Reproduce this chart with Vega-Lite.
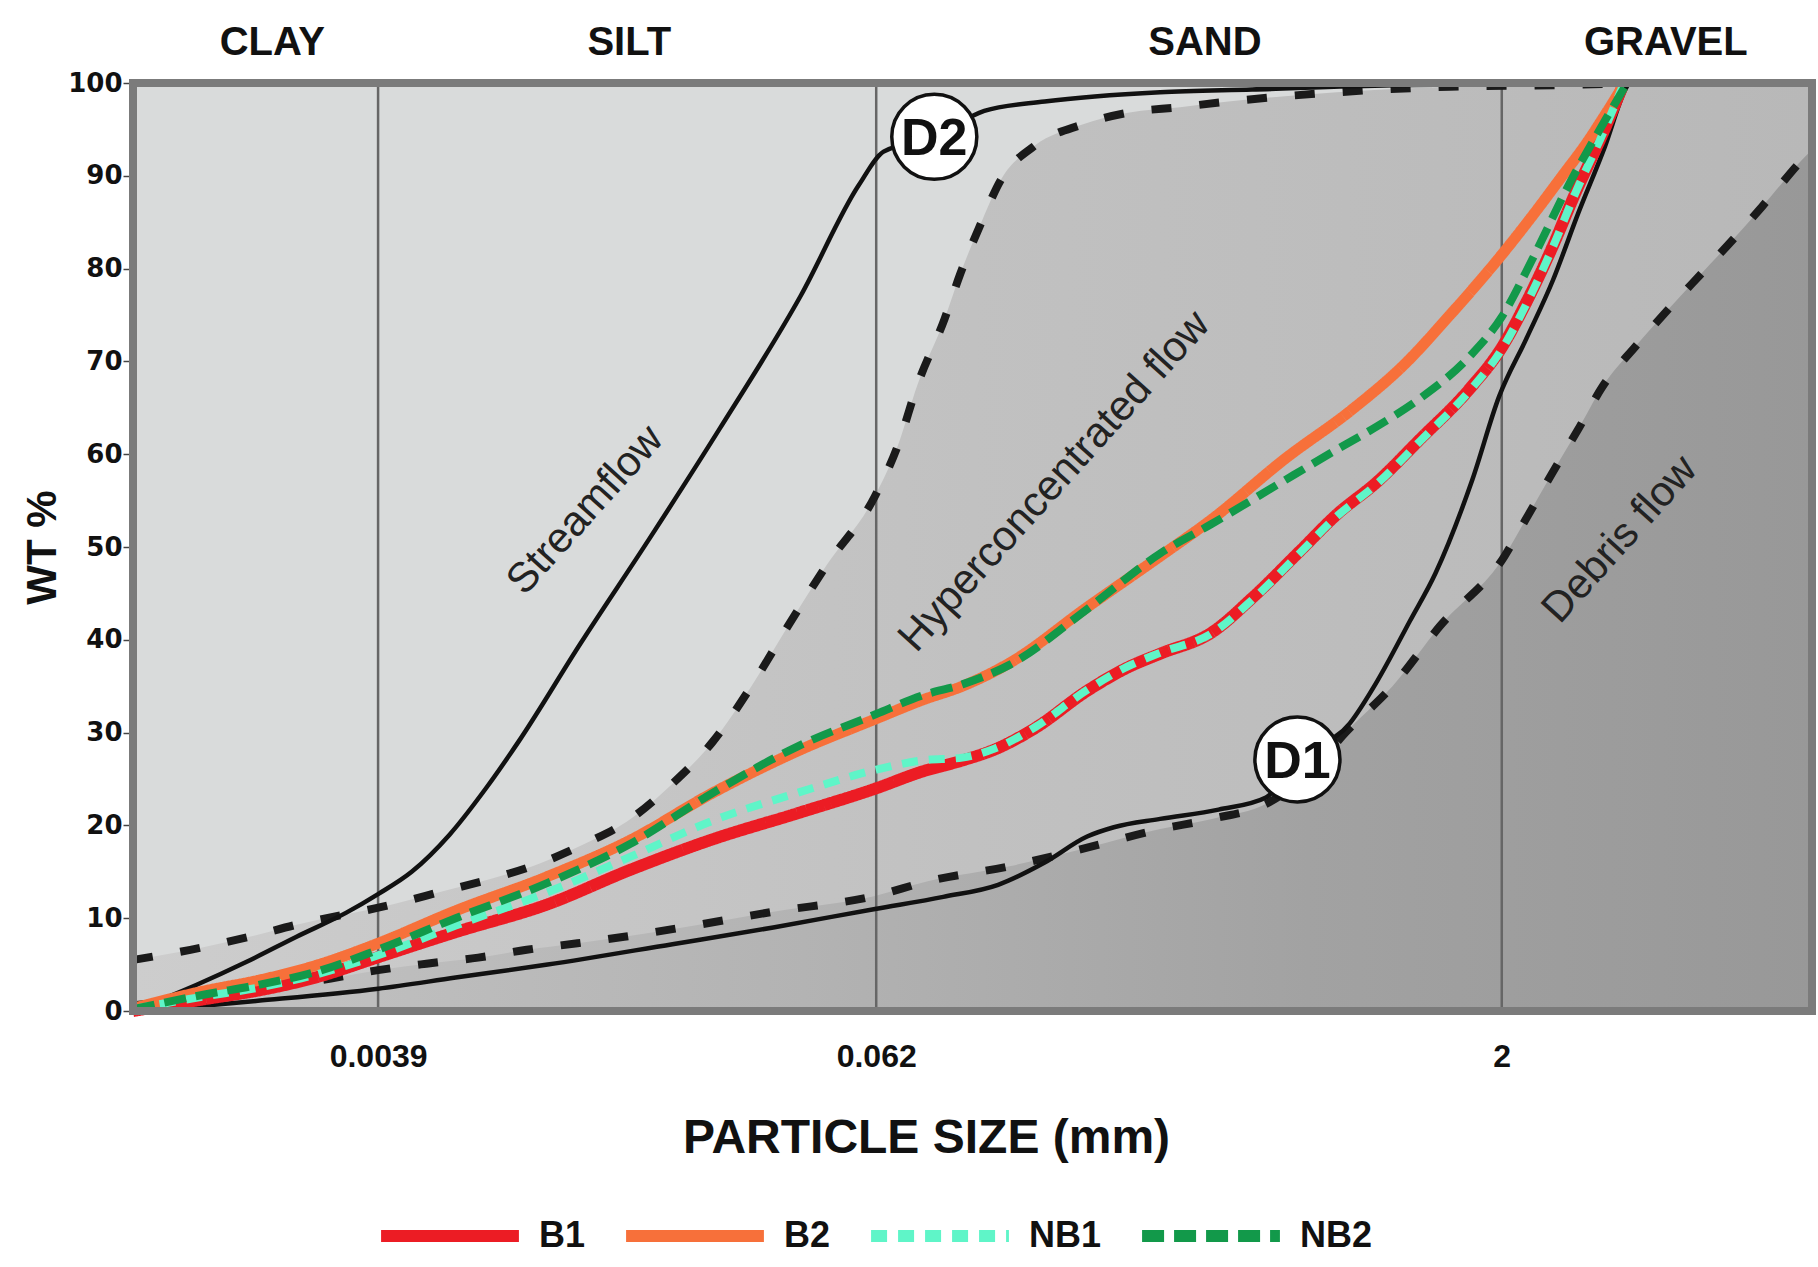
{
  "$schema": "https://vega.github.io/schema/vega-lite/v6.json",
  "width": 1679,
  "height": 928,
  "autosize": {"type": "none"},
  "padding": {"left": 133, "top": 83, "right": 6, "bottom": 256},
  "background": "#ffffff",
  "config": {
    "view": {"fill": "#d9dbdb", "stroke": null},
    "font": "Liberation Sans"
  },
  "datasets": {
    "curves": [
      {"c": "upper", "x": 0.001, "y": 5.5}, {"c": "upper", "x": 0.00145, "y": 6.8}, {"c": "upper", "x": 0.00191, "y": 8.0},
      {"c": "upper", "x": 0.00248, "y": 9.3}, {"c": "upper", "x": 0.00424, "y": 11.5}, {"c": "upper", "x": 0.00559, "y": 12.9},
      {"c": "upper", "x": 0.00738, "y": 14.3}, {"c": "upper", "x": 0.00957, "y": 15.9}, {"c": "upper", "x": 0.0124, "y": 18.1},
      {"c": "upper", "x": 0.0155, "y": 20.4}, {"c": "upper", "x": 0.02, "y": 24.5}, {"c": "upper", "x": 0.025, "y": 29.0},
      {"c": "upper", "x": 0.031, "y": 35.0}, {"c": "upper", "x": 0.038, "y": 41.5}, {"c": "upper", "x": 0.047, "y": 48.0},
      {"c": "upper", "x": 0.0616, "y": 55.5}, {"c": "upper", "x": 0.07, "y": 61.0}, {"c": "upper", "x": 0.078, "y": 67.5},
      {"c": "upper", "x": 0.0905, "y": 74.5}, {"c": "upper", "x": 0.099, "y": 79.5}, {"c": "upper", "x": 0.11, "y": 84.5},
      {"c": "upper", "x": 0.124, "y": 89.6}, {"c": "upper", "x": 0.149, "y": 93.2}, {"c": "upper", "x": 0.194, "y": 95.5},
      {"c": "upper", "x": 0.251, "y": 96.8}, {"c": "upper", "x": 0.335, "y": 97.4}, {"c": "upper", "x": 0.438, "y": 98.0},
      {"c": "upper", "x": 0.8, "y": 99.0}, {"c": "upper", "x": 1.5, "y": 99.6}, {"c": "upper", "x": 3.0, "y": 99.8},
      {"c": "upper", "x": 4.0, "y": 100}, {"c": "upper", "x": 11.2, "y": 100},

      {"c": "lower", "x": 0.001, "y": 0.6}, {"c": "lower", "x": 0.0015, "y": 1.5}, {"c": "lower", "x": 0.002, "y": 2.3},
      {"c": "lower", "x": 0.003, "y": 3.5}, {"c": "lower", "x": 0.0039, "y": 4.4}, {"c": "lower", "x": 0.0051, "y": 5.1},
      {"c": "lower", "x": 0.0068, "y": 5.75}, {"c": "lower", "x": 0.0089, "y": 6.6}, {"c": "lower", "x": 0.0118, "y": 7.3},
      {"c": "lower", "x": 0.0153, "y": 8.0}, {"c": "lower", "x": 0.0228, "y": 9.25}, {"c": "lower", "x": 0.035, "y": 10.7},
      {"c": "lower", "x": 0.0616, "y": 12.4}, {"c": "lower", "x": 0.083, "y": 14.0}, {"c": "lower", "x": 0.13, "y": 15.6},
      {"c": "lower", "x": 0.2, "y": 17.6}, {"c": "lower", "x": 0.3, "y": 19.6}, {"c": "lower", "x": 0.4, "y": 20.7},
      {"c": "lower", "x": 0.55, "y": 22.5}, {"c": "lower", "x": 0.7, "y": 26.0}, {"c": "lower", "x": 0.84, "y": 30.0},
      {"c": "lower", "x": 1.09, "y": 35.0}, {"c": "lower", "x": 1.42, "y": 41.5}, {"c": "lower", "x": 2.03, "y": 49.0},
      {"c": "lower", "x": 2.28, "y": 52.9}, {"c": "lower", "x": 2.65, "y": 58.0}, {"c": "lower", "x": 3.05, "y": 62.6},
      {"c": "lower", "x": 3.5, "y": 67.3}, {"c": "lower", "x": 4.2, "y": 71.6}, {"c": "lower", "x": 5.04, "y": 75.6},
      {"c": "lower", "x": 6.07, "y": 79.5}, {"c": "lower", "x": 7.35, "y": 83.5}, {"c": "lower", "x": 8.9, "y": 87.75},
      {"c": "lower", "x": 10.8, "y": 92.1}, {"c": "lower", "x": 11.2, "y": 92.8},

      {"c": "D1", "x": 0.001, "y": 0}, {"c": "D1", "x": 0.0015, "y": 0.6}, {"c": "D1", "x": 0.002, "y": 1.1},
      {"c": "D1", "x": 0.0039, "y": 2.4}, {"c": "D1", "x": 0.006, "y": 3.6}, {"c": "D1", "x": 0.01, "y": 5.0},
      {"c": "D1", "x": 0.02, "y": 7.2}, {"c": "D1", "x": 0.035, "y": 9.0}, {"c": "D1", "x": 0.0616, "y": 11.0},
      {"c": "D1", "x": 0.09, "y": 12.3}, {"c": "D1", "x": 0.122, "y": 13.6}, {"c": "D1", "x": 0.158, "y": 16.0},
      {"c": "D1", "x": 0.2, "y": 18.8}, {"c": "D1", "x": 0.232, "y": 19.8}, {"c": "D1", "x": 0.3, "y": 20.7},
      {"c": "D1", "x": 0.415, "y": 21.7}, {"c": "D1", "x": 0.54, "y": 23.0}, {"c": "D1", "x": 0.643, "y": 27.1},
      {"c": "D1", "x": 0.86, "y": 31.0}, {"c": "D1", "x": 1.0, "y": 35.5}, {"c": "D1", "x": 1.2, "y": 42.0},
      {"c": "D1", "x": 1.385, "y": 47.2}, {"c": "D1", "x": 1.7, "y": 57.3}, {"c": "D1", "x": 1.97, "y": 66.2},
      {"c": "D1", "x": 2.29, "y": 72.4}, {"c": "D1", "x": 2.66, "y": 78.8}, {"c": "D1", "x": 3.06, "y": 86.0},
      {"c": "D1", "x": 3.55, "y": 93.2}, {"c": "D1", "x": 3.97, "y": 99.3}, {"c": "D1", "x": 4.05, "y": 100},

      {"c": "D2", "x": 0.001, "y": 0}, {"c": "D2", "x": 0.00142, "y": 2.8}, {"c": "D2", "x": 0.00188, "y": 5.3},
      {"c": "D2", "x": 0.00248, "y": 8.0}, {"c": "D2", "x": 0.00327, "y": 10.6}, {"c": "D2", "x": 0.0039, "y": 12.6},
      {"c": "D2", "x": 0.0047, "y": 15.0}, {"c": "D2", "x": 0.0058, "y": 19.0}, {"c": "D2", "x": 0.0071, "y": 24.0},
      {"c": "D2", "x": 0.0085, "y": 29.0}, {"c": "D2", "x": 0.012, "y": 39.6}, {"c": "D2", "x": 0.0176, "y": 50.9},
      {"c": "D2", "x": 0.026, "y": 62.75}, {"c": "D2", "x": 0.0408, "y": 77.1}, {"c": "D2", "x": 0.0563, "y": 89.0},
      {"c": "D2", "x": 0.0646, "y": 92.6}, {"c": "D2", "x": 0.0856, "y": 94.2}, {"c": "D2", "x": 0.113, "y": 97.0},
      {"c": "D2", "x": 0.158, "y": 98.0}, {"c": "D2", "x": 0.3, "y": 99.0}, {"c": "D2", "x": 0.5, "y": 99.3},
      {"c": "D2", "x": 1.09, "y": 99.75}, {"c": "D2", "x": 2.1, "y": 99.9}, {"c": "D2", "x": 4.0, "y": 100}
    ],
    "samples": [
      {"s": "B1", "x": 0.001, "y": 0}, {"s": "B1", "x": 0.0015, "y": 1.3}, {"s": "B1", "x": 0.002, "y": 2.2},
      {"s": "B1", "x": 0.0028, "y": 3.7}, {"s": "B1", "x": 0.0039, "y": 5.8}, {"s": "B1", "x": 0.006, "y": 8.5},
      {"s": "B1", "x": 0.01, "y": 11.5}, {"s": "B1", "x": 0.0158, "y": 15.2}, {"s": "B1", "x": 0.025, "y": 18.5},
      {"s": "B1", "x": 0.04, "y": 21.3}, {"s": "B1", "x": 0.062, "y": 24.0}, {"s": "B1", "x": 0.08, "y": 25.8},
      {"s": "B1", "x": 0.1, "y": 27.0}, {"s": "B1", "x": 0.12, "y": 28.2}, {"s": "B1", "x": 0.15, "y": 30.5},
      {"s": "B1", "x": 0.2, "y": 34.5}, {"s": "B1", "x": 0.25, "y": 37.0}, {"s": "B1", "x": 0.3, "y": 38.5},
      {"s": "B1", "x": 0.4, "y": 40.8}, {"s": "B1", "x": 0.5, "y": 44.5}, {"s": "B1", "x": 0.65, "y": 49.5},
      {"s": "B1", "x": 0.8, "y": 53.5}, {"s": "B1", "x": 1.0, "y": 57.0}, {"s": "B1", "x": 1.27, "y": 61.6},
      {"s": "B1", "x": 1.67, "y": 67.0}, {"s": "B1", "x": 2.0, "y": 71.5}, {"s": "B1", "x": 2.3, "y": 76.5},
      {"s": "B1", "x": 2.66, "y": 82.5}, {"s": "B1", "x": 3.0, "y": 88.0}, {"s": "B1", "x": 3.5, "y": 94.5},
      {"s": "B1", "x": 3.9, "y": 99.5},

      {"s": "B2", "x": 0.001, "y": 0.3}, {"s": "B2", "x": 0.0015, "y": 2.2}, {"s": "B2", "x": 0.002, "y": 3.3},
      {"s": "B2", "x": 0.0028, "y": 5.0}, {"s": "B2", "x": 0.0039, "y": 7.3}, {"s": "B2", "x": 0.006, "y": 10.8},
      {"s": "B2", "x": 0.01, "y": 14.5}, {"s": "B2", "x": 0.0158, "y": 18.4}, {"s": "B2", "x": 0.025, "y": 23.5},
      {"s": "B2", "x": 0.04, "y": 28.0}, {"s": "B2", "x": 0.062, "y": 31.5}, {"s": "B2", "x": 0.08, "y": 33.5},
      {"s": "B2", "x": 0.1, "y": 35.0}, {"s": "B2", "x": 0.13, "y": 37.5}, {"s": "B2", "x": 0.2, "y": 43.5},
      {"s": "B2", "x": 0.3, "y": 49.0}, {"s": "B2", "x": 0.4, "y": 53.0}, {"s": "B2", "x": 0.6, "y": 59.5},
      {"s": "B2", "x": 0.87, "y": 64.8}, {"s": "B2", "x": 1.16, "y": 69.6}, {"s": "B2", "x": 1.5, "y": 75.0},
      {"s": "B2", "x": 2.0, "y": 81.5}, {"s": "B2", "x": 2.4, "y": 86.0}, {"s": "B2", "x": 2.8, "y": 90.0},
      {"s": "B2", "x": 3.2, "y": 93.5}, {"s": "B2", "x": 3.6, "y": 97.0}, {"s": "B2", "x": 3.9, "y": 99.5},

      {"s": "NB1", "x": 0.001, "y": 0.2}, {"s": "NB1", "x": 0.0015, "y": 1.6}, {"s": "NB1", "x": 0.002, "y": 2.5},
      {"s": "NB1", "x": 0.0028, "y": 4.0}, {"s": "NB1", "x": 0.0039, "y": 6.0}, {"s": "NB1", "x": 0.006, "y": 9.2},
      {"s": "NB1", "x": 0.01, "y": 12.8}, {"s": "NB1", "x": 0.0158, "y": 16.6}, {"s": "NB1", "x": 0.025, "y": 20.5},
      {"s": "NB1", "x": 0.04, "y": 23.5}, {"s": "NB1", "x": 0.062, "y": 26.0}, {"s": "NB1", "x": 0.08, "y": 27.0},
      {"s": "NB1", "x": 0.1, "y": 27.3}, {"s": "NB1", "x": 0.12, "y": 28.3}, {"s": "NB1", "x": 0.15, "y": 30.6},
      {"s": "NB1", "x": 0.2, "y": 34.6}, {"s": "NB1", "x": 0.25, "y": 37.1}, {"s": "NB1", "x": 0.3, "y": 38.6},
      {"s": "NB1", "x": 0.4, "y": 40.7}, {"s": "NB1", "x": 0.5, "y": 44.3}, {"s": "NB1", "x": 0.65, "y": 49.3},
      {"s": "NB1", "x": 0.8, "y": 53.3}, {"s": "NB1", "x": 1.0, "y": 56.8}, {"s": "NB1", "x": 1.27, "y": 61.4},
      {"s": "NB1", "x": 1.67, "y": 66.8}, {"s": "NB1", "x": 2.0, "y": 71.3}, {"s": "NB1", "x": 2.3, "y": 76.3},
      {"s": "NB1", "x": 2.66, "y": 82.4}, {"s": "NB1", "x": 3.0, "y": 88.0}, {"s": "NB1", "x": 3.5, "y": 94.5},
      {"s": "NB1", "x": 3.9, "y": 99.5},

      {"s": "NB2", "x": 0.001, "y": 0.2}, {"s": "NB2", "x": 0.0015, "y": 1.8}, {"s": "NB2", "x": 0.002, "y": 2.8},
      {"s": "NB2", "x": 0.0028, "y": 4.3}, {"s": "NB2", "x": 0.0039, "y": 6.6}, {"s": "NB2", "x": 0.006, "y": 10.0},
      {"s": "NB2", "x": 0.01, "y": 13.8}, {"s": "NB2", "x": 0.0158, "y": 18.0}, {"s": "NB2", "x": 0.025, "y": 23.5},
      {"s": "NB2", "x": 0.04, "y": 28.5}, {"s": "NB2", "x": 0.062, "y": 32.0}, {"s": "NB2", "x": 0.08, "y": 34.0},
      {"s": "NB2", "x": 0.1, "y": 35.2}, {"s": "NB2", "x": 0.13, "y": 37.3}, {"s": "NB2", "x": 0.2, "y": 43.3},
      {"s": "NB2", "x": 0.3, "y": 49.3}, {"s": "NB2", "x": 0.4, "y": 52.5}, {"s": "NB2", "x": 0.6, "y": 57.2},
      {"s": "NB2", "x": 0.8, "y": 60.5}, {"s": "NB2", "x": 1.0, "y": 63.0}, {"s": "NB2", "x": 1.27, "y": 66.0},
      {"s": "NB2", "x": 1.67, "y": 70.5}, {"s": "NB2", "x": 2.0, "y": 74.8}, {"s": "NB2", "x": 2.37, "y": 81.0},
      {"s": "NB2", "x": 2.9, "y": 89.0}, {"s": "NB2", "x": 3.5, "y": 95.5}, {"s": "NB2", "x": 3.95, "y": 99.5}
    ]
  },
  "encoding": {
    "x": {
      "field": "x", "type": "quantitative",
      "scale": {"type": "log", "domain": [0.001, 11.2], "nice": false},
      "axis": {
        "values": [0.0039, 0.062, 2], "format": "~g", "title": "PARTICLE SIZE (mm)",
        "ticks": false, "domain": false, "grid": false, "labelOverlap": false,
        "labelFont": "Liberation Sans", "labelFontWeight": "bold", "labelFontSize": 32, "labelColor": "#111111",
        "labelPadding": 30,
        "titleFont": "Liberation Sans", "titleFontWeight": "bold", "titleFontSize": 48, "titleColor": "#111111",
        "titlePadding": 42, "titleX": 793
      }
    },
    "y": {
      "field": "y", "type": "quantitative",
      "scale": {"domain": [0, 100], "nice": false},
      "axis": {
        "values": [0, 10, 20, 30, 40, 50, 60, 70, 80, 90, 100], "title": "WT %",
        "domain": false, "grid": false, "tickSize": 10, "tickColor": "#444444", "tickWidth": 1.5,
        "labelFont": "DejaVu Sans", "labelFontWeight": "bold", "labelFontSize": 26, "labelColor": "#111111",
        "labelPadding": 1,
        "titleFont": "Liberation Sans", "titleFontWeight": "bold", "titleFontSize": 42, "titleColor": "#111111",
        "titlePadding": 3
      }
    }
  },
  "layer": [
    {
      "data": {"name": "curves"},
      "transform": [{"filter": "datum.c == 'upper'"}],
      "mark": {
        "type": "area", "interpolate": "monotone",
        "color": {"gradient": "linear", "x1": 0, "y1": 0, "x2": 1, "y2": 0,
          "stops": [{"offset": 0, "color": "#cdcdcd"}, {"offset": 0.5, "color": "#c1c1c1"}, {"offset": 1, "color": "#b8b8b8"}]}
      }
    },
    {
      "data": {"name": "curves"},
      "transform": [{"filter": "datum.c == 'lower'"}],
      "mark": {
        "type": "area", "interpolate": "monotone",
        "color": {"gradient": "linear", "x1": 0, "y1": 0, "x2": 1, "y2": 0,
          "stops": [{"offset": 0, "color": "#c4c4c4"}, {"offset": 0.4, "color": "#b3b3b3"}, {"offset": 0.7, "color": "#a2a2a2"}, {"offset": 1, "color": "#989898"}]}
      }
    },
    {
      "data": {"values": [{"x": 0.0039, "y": 0, "y2": 100}, {"x": 0.062, "y": 0, "y2": 100}, {"x": 2, "y": 0, "y2": 100}]},
      "mark": {"type": "rule", "color": "#666666", "strokeWidth": 2.5},
      "encoding": {"y2": {"field": "y2"}}
    },
    {
      "data": {"name": "curves"},
      "transform": [{"filter": "(datum.c == 'upper' && datum.x <= 4.5) || datum.c == 'lower'"}],
      "mark": {"type": "line", "interpolate": "monotone", "color": "#1a1a1a", "strokeWidth": 8, "strokeDash": [20, 28], "strokeCap": "butt"},
      "encoding": {"detail": {"field": "c"}}
    },
    {
      "data": {"name": "curves"},
      "transform": [{"filter": "datum.c == 'D1' || datum.c == 'D2'"}],
      "mark": {"type": "line", "interpolate": "monotone", "color": "#111111", "strokeWidth": 4.5},
      "encoding": {"detail": {"field": "c"}}
    },
    {
      "data": {"name": "samples"},
      "encoding": {
        "color": {
          "field": "s", "type": "nominal",
          "scale": {"domain": ["B1", "B2", "NB1", "NB2"], "range": ["#ec1c24", "#f7703a", "#5ff5c8", "#12994a"]},
          "legend": {
            "orient": "none", "legendX": 242, "legendY": 1078, "direction": "horizontal", "title": null,
            "symbolType": "stroke", "symbolSize": 19000, "symbolStrokeWidth": 12,
            "labelFont": "Liberation Sans", "labelFontWeight": "bold", "labelFontSize": 36, "labelColor": "#111111",
            "labelOffset": 14, "columnPadding": 16, "padding": 0
          }
        },
        "strokeDash": {
          "field": "s", "type": "nominal",
          "scale": {"domain": ["B1", "B2", "NB1", "NB2"], "range": [[1, 0], [1, 0], [16, 11], [22, 10]]},
          "legend": {
            "orient": "none", "legendX": 242, "legendY": 1078, "direction": "horizontal", "title": null,
            "symbolType": "stroke", "symbolSize": 19000, "symbolStrokeWidth": 12,
            "labelFont": "Liberation Sans", "labelFontWeight": "bold", "labelFontSize": 36, "labelColor": "#111111",
            "labelOffset": 14, "columnPadding": 16, "padding": 0
          }
        }
      },
      "layer": [
        {"transform": [{"filter": "datum.s == 'B1'"}], "mark": {"type": "line", "interpolate": "monotone", "strokeWidth": 12}},
        {"transform": [{"filter": "datum.s == 'B2'"}], "mark": {"type": "line", "interpolate": "monotone", "strokeWidth": 11}},
        {"transform": [{"filter": "datum.s == 'NB1'"}], "mark": {"type": "line", "interpolate": "monotone", "strokeWidth": 8, "strokeCap": "butt"}},
        {"transform": [{"filter": "datum.s == 'NB2'"}], "mark": {"type": "line", "interpolate": "monotone", "strokeWidth": 8, "strokeCap": "butt"}}
      ]
    },
    {
      "data": {"values": [{"x": 0.001, "x2": 11.2, "y": 0, "y2": 100}]},
      "mark": {"type": "rect", "fillOpacity": 0, "stroke": "#7b7b7b", "strokeWidth": 8},
      "encoding": {"x2": {"field": "x2"}, "y2": {"field": "y2"}}
    },
    {
      "data": {"values": [{"x": 0.0856, "y": 94.2, "t": "D2"}, {"x": 0.643, "y": 27.1, "t": "D1"}]},
      "layer": [
        {"mark": {"type": "point", "shape": "circle", "filled": true, "fill": "#ffffff", "fillOpacity": 1, "stroke": "#111111", "strokeWidth": 3.5, "size": 7238, "opacity": 1}},
        {"mark": {"type": "text", "font": "Liberation Sans", "fontWeight": "bold", "fontSize": 52, "color": "#111111", "align": "center", "baseline": "middle", "dy": 2}, "encoding": {"text": {"field": "t"}}}
      ]
    },
    {
      "data": {"values": [
        {"x": 0.002168, "y": 104.3, "t": "CLAY"},
        {"x": 0.01573, "y": 104.3, "t": "SILT"},
        {"x": 0.3847, "y": 104.3, "t": "SAND"},
        {"x": 4.975, "y": 104.3, "t": "GRAVEL"}
      ]},
      "mark": {"type": "text", "font": "Liberation Sans", "fontWeight": "bold", "fontSize": 40, "color": "#111111", "align": "center", "baseline": "middle"},
      "encoding": {"text": {"field": "t"}}
    },
    {
      "data": {"values": [
        {"x": 0.01232, "y": 54.0, "t": "Streamflow"},
        {"x": 0.1666, "y": 57.1, "t": "Hyperconcentrated flow"},
        {"x": 3.85, "y": 50.85, "t": "Debris flow"}
      ]},
      "mark": {"type": "text", "font": "Liberation Sans", "fontSize": 42, "color": "#222222", "align": "center", "baseline": "middle", "angle": 312},
      "encoding": {"text": {"field": "t"}}
    }
  ]
}
